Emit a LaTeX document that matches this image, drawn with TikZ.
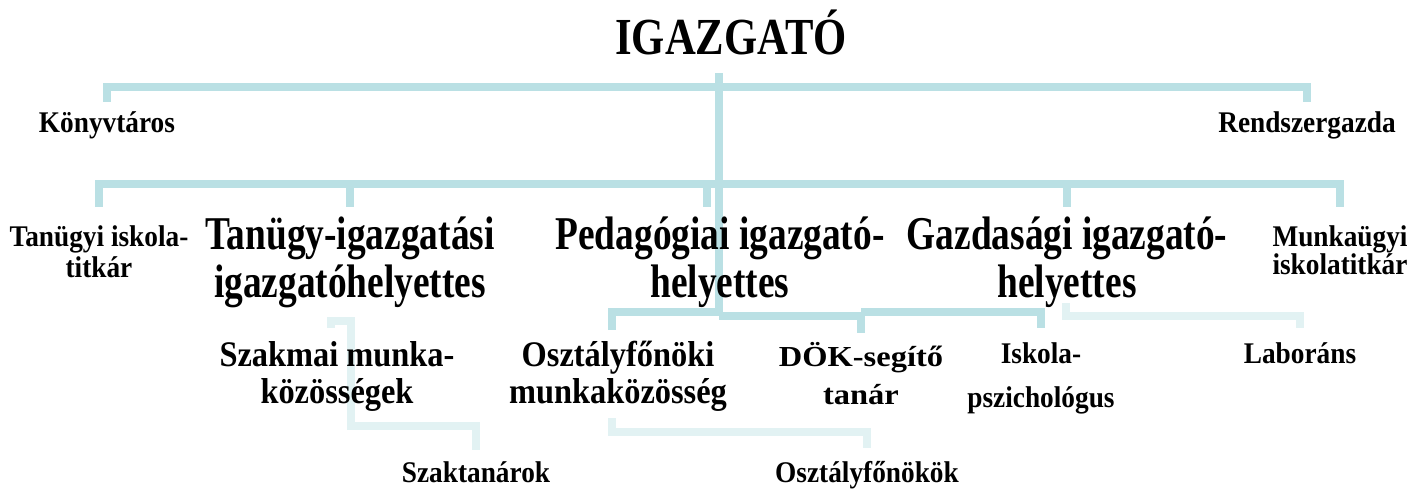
\documentclass[tikz,border=0pt]{standalone}
\usepackage{fontspec}
\setmainfont{Liberation Serif}
\usetikzlibrary{positioning,calc,backgrounds}
\definecolor{linkteal}{RGB}{186,224,228}
\definecolor{paleteal}{RGB}{226,242,243}
% centred lines, box baseline on the first line
\newcommand\stack[2]{\vtop{\baselineskip=#1\lineskiplimit=-\maxdimen\halign{\hfil##\hfil\cr#2\crcr}}}

\begin{document}
\begin{tikzpicture}[x=1pt, y=-1pt, line join=miter]
    \tikzstyle{lbl}=[anchor=base, inner sep=0pt, text=black]
    \tikzstyle{boss}=[lbl, font=\fontsize{52}{56}\selectfont\bfseries, xscale=0.82]
    \tikzstyle{big}=[lbl, font=\fontsize{47}{48}\selectfont\bfseries, xscale=0.795]
    \tikzstyle{mid}=[lbl, font=\fontsize{36}{37}\selectfont\bfseries, xscale=0.9]
    \tikzstyle{small}=[lbl, font=\fontsize{30}{31}\selectfont\bfseries, xscale=0.91]
    \tikzstyle{wide}=[lbl, font=\fontsize{29}{31}\selectfont\bfseries, xscale=1.12]
    \tikzstyle{bar}=[draw=linkteal, line width=7.5pt]
    \tikzstyle{pale}=[draw=paleteal, line width=7.5pt]

    \useasboundingbox (0,0) rectangle (1423,489);

    % top
    \node[boss]  (igazgato)   at (731,55)   {IGAZGATÓ};
    \node[small] (konyv)      at (107,133)  {Könyvtáros};
    \node[small] (rendszer)   at (1307,133) {Rendszergazda};

    % deputies
    \node[small] (tanugyi)    at (99,246)   {\stack{31pt}{Tanügyi iskola-\cr titkár}};
    \node[big]   (tanugy)     at (350,249)  {\stack{48pt}{Tanügy-igazgatási\cr igazgatóhelyettes}};
    \node[big]   (pedag)      at (720,249)  {\stack{48pt}{Pedagógiai igazgató-\cr helyettes}};
    \node[big]   (gazd)       at (1067,249) {\stack{48pt}{Gazdasági igazgató-\cr helyettes}};
    \node[small] (munkaugyi)  at (1340,246) {\stack{28pt}{Munkaügyi\cr iskolatitkár}};

    % third row
    \node[mid]   (szakmai)    at (337,366)  {\stack{37pt}{Szakmai munka-\cr közösségek}};
    \node[mid]   (ofo)        at (618,366)  {\stack{37pt}{Osztályfőnöki\cr munkaközösség}};
    \node[wide]  (dok)        at (861,366)  {\stack{38pt}{DÖK-segítő\cr tanár}};
    \node[small] (pszich)     at (1041,363) {\stack{44pt}{Iskola-\cr pszichológus}};
    \node[small] (labor)      at (1300,363) {Laboráns};

    % bottom
    \node[small] (szaktan)    at (476,482)  {Szaktanárok};
    \node[small] (ofok)       at (867,482)  {Osztályfőnökök};

    \coordinate (trunk) at (719,73);
    \coordinate (lvl1)  at (719,87);
    \coordinate (lvl2)  at (719,184);
    \coordinate (lvl3)  at (719,312);

    \begin{scope}[on background layer]
    \draw[bar] (trunk) -- (719,316);
    \draw[bar] (konyv |- 0,102) -- (konyv |- lvl1) -- (rendszer |- lvl1) -- (rendszer |- 0,102);
    \draw[bar] (tanugyi |- 0,207) -- (tanugyi |- lvl2) -- (munkaugyi |- lvl2) -- (munkaugyi |- 0,207);
    \foreach \n in {tanugy,gazd}
        \draw[bar] (\n |- lvl2) -- (\n |- 0,207);
    \draw[bar] (707,184) -- (707,207);

    \draw[bar] (612,330) -- (612,312) -- (lvl3);
    \draw[bar] (719,316) -- (dok |- 0,316) -- (dok |- 0,333);
    \draw[bar] (dok |- lvl3) -- (pszich |- lvl3) -- (pszich |- 0,328);

    \draw[pale] (331,328) -- (331,321) -- (351,321) -- (351,426) -- (szaktan |- 0,426) -- (szaktan |- 0,450);
    \draw[pale] (612,418) -- (612,432) -- (ofok |- 0,432) -- (ofok |- 0,448);
    \draw[pale] (1066,303) -- (1066,316) -- (labor |- 0,316) -- (labor |- 0,328);
    \end{scope}
\end{tikzpicture}
\end{document}
